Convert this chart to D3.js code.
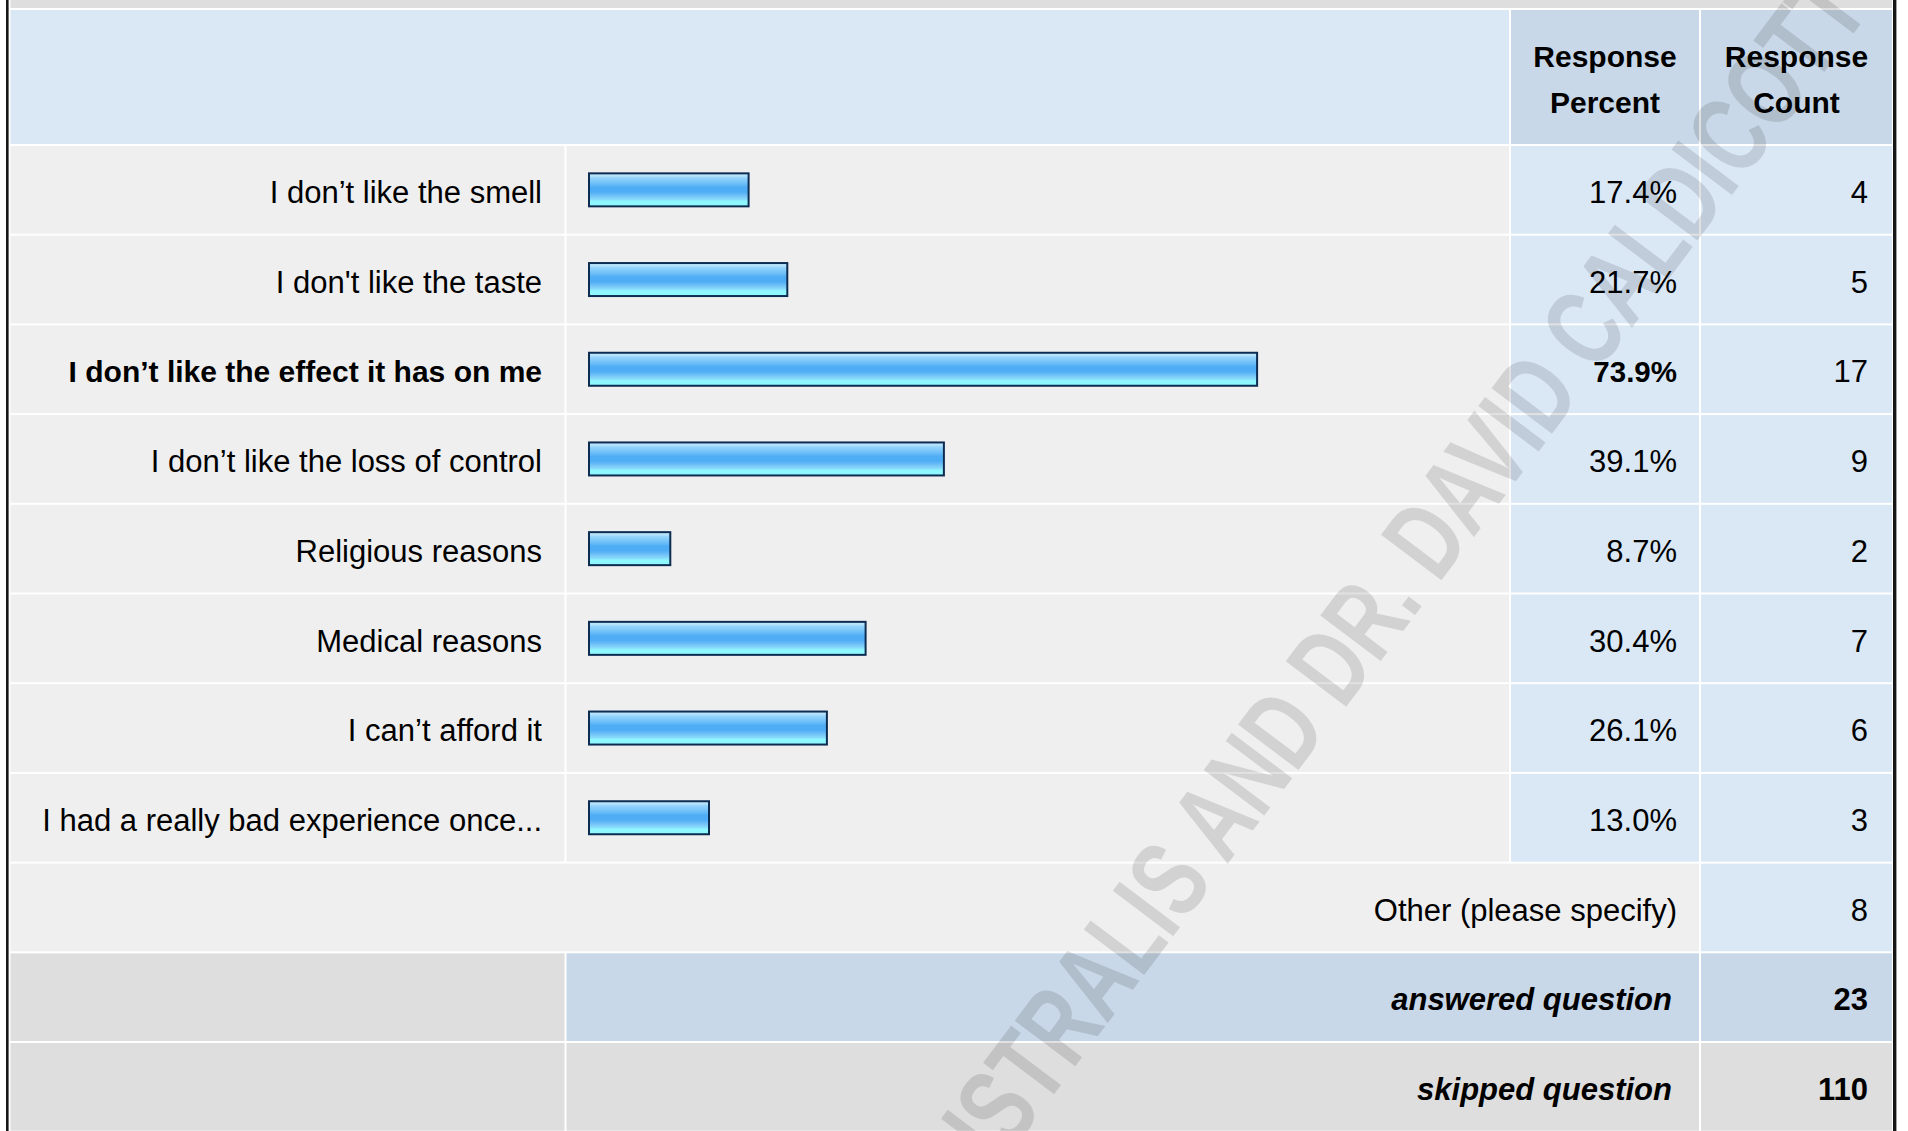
<!DOCTYPE html>
<html>
<head>
<meta charset="utf-8">
<script src="https://cdn.jsdelivr.net/npm/d3@7"></script>
<style>
html, body { margin: 0; padding: 0; background: #fff; overflow: hidden; }
</style>
</head>
<body>
<div id="chart"></div>
<script>
var categories = [
    "I don’t like the smell",
    "I don't like the taste",
    "I don’t like the effect it has on me",
    "I don’t like the loss of control",
    "Religious reasons",
    "Medical reasons",
    "I can’t afford it",
    "I had a really bad experience once..."
];
var percents = [17.4, 21.7, 73.9, 39.1, 8.7, 30.4, 26.1, 13.0];
var counts = [4, 5, 17, 9, 2, 7, 6, 3];
var boldRow = 2;
var otherLabel = "Other (please specify)";
var otherCount = 8;
var summaryLabels = ["answered question", "skipped question"];
var summaryCounts = [23, 110];
var headerPercent = ["Response", "Percent"];
var headerCount = ["Response", "Count"];
var watermark = "AUSTRALIS AND DR. DAVID CALDICOTT";

var width = 1908, height = 1131;
var font = "'Liberation Sans', Arial, Helvetica, sans-serif";
var grey = "#efefef", blue = "#dae8f6", blueDark = "#c8d8e8", greyDark = "#dedede";

// column edges
var c0 = [10.5, 564.5], c1 = [566.5, 1509], c2 = [1511, 1699], c3 = [1701, 1892];
var rowH = 87.7;
var rowY = d3.scaleLinear().domain([0, 1]).range([146, 146 + 89.7]);
var x = d3.scaleLinear().domain([0, 100]).range([589, 1489]);

var svg = d3.select("#chart").append("svg")
    .attr("width", width)
    .attr("height", height)
    .style("display", "block")
    .style("font-family", font);

var defs = svg.append("defs");
var grad = defs.append("linearGradient")
    .attr("id", "barGrad")
    .attr("x1", 0).attr("y1", 0).attr("x2", 0).attr("y2", 1);
[[0, "#c2e8fc"], [0.08, "#b6e2fc"], [0.14, "#93d3fb"], [0.24, "#7ec8f9"], [0.34, "#66bbf7"],
 [0.42, "#4fadf5"], [0.56, "#4fadf5"], [0.63, "#62b8f6"], [0.72, "#7ccaf8"], [0.79, "#88dcfa"],
 [0.85, "#8ff8ff"], [1, "#8ff8ff"]].forEach(function (s) {
    grad.append("stop").attr("offset", s[0]).attr("stop-color", s[1]);
});

function cell(xs, y0, y1, fill) {
    svg.append("rect")
        .attr("x", xs[0]).attr("y", y0)
        .attr("width", xs[1] - xs[0]).attr("height", y1 - y0)
        .attr("fill", fill);
}
function label(txt, xr, y, opts) {
    opts = opts || {};
    svg.append("text")
        .attr("x", xr).attr("y", y)
        .attr("text-anchor", opts.anchor || "end")
        .attr("font-size", opts.size || 31)
        .attr("font-weight", opts.bold ? "bold" : "normal")
        .attr("font-style", opts.italic ? "italic" : "normal")
        .attr("fill", "#000")
        .text(txt);
}

// top strip + header
cell([c0[0], c3[1]], 0, 8, greyDark);
cell([c0[0], c1[1]], 10, 144, blue);
cell(c2, 10, 144, blueDark);
cell(c3, 10, 144, blueDark);
[headerPercent, headerCount].forEach(function (h, k) {
    var col = k === 0 ? c2 : c3;
    var mid = (col[0] + col[1]) / 2;
    label(h[0], mid, 66.7, {anchor: "middle", bold: true, size: 30});
    label(h[1], mid, 112.7, {anchor: "middle", bold: true, size: 30});
});

// answer rows
categories.forEach(function (c, i) {
    var y0 = rowY(i), y1 = y0 + rowH, base = y0 + 57;
    var b = i === boldRow;
    cell(c0, y0, y1, grey);
    cell(c1, y0, y1, grey);
    cell(c2, y0, y1, blue);
    cell(c3, y0, y1, blue);
    label(c, 542, base, {bold: b, size: b ? 30 : 31});
    label(percents[i].toFixed(1) + "%", 1677, base, {bold: b, size: b ? 29.5 : 31});
    label(counts[i], 1868, base);
});

svg.append("g").selectAll("rect")
    .data(percents).enter()
    .append("rect")
    .attr("x", x(0))
    .attr("y", function (d, i) { return rowY(i) + rowH / 2 - 16.5; })
    .attr("width", function (d) { return x(d) - x(0) + 3; })
    .attr("height", 33)
    .attr("fill", "url(#barGrad)")
    .attr("stroke", "#0c2c52")
    .attr("stroke-width", 2);

// other row
var n = categories.length;
var oy = rowY(n);
cell([c0[0], c2[1]], oy, oy + rowH, grey);
cell(c3, oy, oy + rowH, blue);
label(otherLabel, 1677, oy + 57);
label(otherCount, 1868, oy + 57);

// summary rows
summaryLabels.forEach(function (s, k) {
    var y0 = rowY(n + 1 + k), y1 = y0 + rowH;
    var fill = k === 0 ? blueDark : greyDark;
    cell(c0, y0, y1, greyDark);
    cell([c1[0], c2[1]], y0, y1, fill);
    cell(c3, y0, y1, fill);
    label(s, 1672, y0 + 57, {bold: true, italic: true});
    label(summaryCounts[k], 1868, y0 + 57, {bold: true});
});

// outer borders
svg.append("rect").attr("x", 6).attr("y", 0).attr("width", 2.6).attr("height", height).attr("fill", "#161616");
svg.append("rect").attr("x", 1893).attr("y", 0).attr("width", 3.4).attr("height", height).attr("fill", "#161616");

// watermark
var fs = 110;
var wm = svg.append("g").attr("opacity", 0.115);
var wt = wm.append("text")
    .attr("font-size", fs)
    .attr("font-weight", "bold")
    .attr("fill", "#000")
    .text(watermark);
var ext = wt.node().getExtentOfChar(watermark.indexOf("CALDICOTT"));
var cx = ext.x + ext.width / 2, cy = -0.36 * fs;
wm.attr("transform", "translate(1582,328) rotate(-53) scale(0.72,1) translate(" + (-cx) + "," + (-cy) + ")");
</script>
</body>
</html>
